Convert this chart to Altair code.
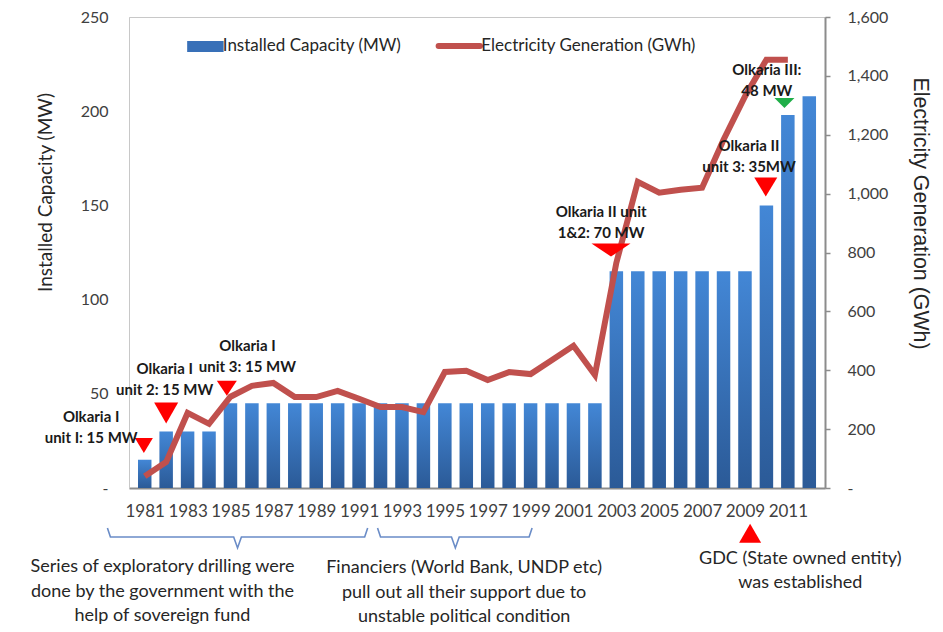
import altair as alt
import pandas as pd

# ---------------- data ----------------
years = [1981, 1982, 1983, 1984, 1985, 1986, 1987, 1988, 1989, 1990,
         1991, 1992, 1993, 1994, 1995, 1996, 1997, 1998, 1999, 2000,
         2001, 2002, 2003, 2004, 2005, 2006, 2007, 2008, 2009, 2010,
         2011, 2012]
capacity_mw = [15, 30, 30, 30, 45, 45, 45, 45, 45, 45,
               45, 45, 45, 45, 45, 45, 45, 45, 45, 45,
               45, 45, 115, 115, 115, 115, 115, 115, 115, 150,
               198, 208]
gen_years = [1981, 1982, 1983, 1984, 1985, 1986, 1987, 1988, 1989, 1990,
             1991, 1992, 1993, 1994, 1995, 1996, 1997, 1998, 1999, 2000,
             2001, 2002, 2003, 2004, 2005, 2006, 2007, 2008, 2009, 2010,
             2011]
generation_gwh = [40, 88, 255, 218, 310, 347, 357, 309, 309, 330,
                  303, 275, 275, 258, 394, 398, 367, 394, 387, 435,
                  483, 384, 765, 1040, 1003, 1013, 1020, 1183, 1330, 1455,
                  1455]
tick_years = [1981, 1983, 1985, 1987, 1989, 1991, 1993, 1995, 1997, 1999,
              2001, 2003, 2005, 2007, 2009, 2011]
mw_ticks = [0, 50, 100, 150, 200, 250]
gwh_ticks = [0, 200, 400, 600, 800, 1000, 1200, 1400, 1600]

# annotation labels (x in years, y in MW)
note_x = [1978.5, 1981.93, 1985.79, 2002.29, 2009.19, 2010.02]
note_y = [41.5, 66.9, 79.2, 150.3, 185.3, 225.6]
note_text = ["Olkaria I\nunit I: 15 MW", "Olkaria I\nunit 2: 15 MW",
             "Olkaria I\nunit 3: 15 MW", "Olkaria II unit\n1&2: 70 MW",
             "Olkaria II\nunit 3: 35MW", "Olkaria III:\n48 MW"]

# triangle markers
tri_x = [1980.96, 1982.0, 1984.83, 2002.75, 2009.97, 2010.84, 2009.24]
tri_y = [22.5, 39.8, 53.0, 126.3, 159.8, 204.4, -24.0]
tri_w = [18, 24, 20, 39, 23, 20, 22]
tri_h = [15, 21, 15, 13, 19, 10, 19]
tri_color = ["#ff0000", "#ff0000", "#ff0000", "#ff0000", "#ff0000", "#1fae48", "#ff0000"]
tri_up = [False, False, False, False, False, False, True]

# bottom notes
foot_x = [1981.83, 1995.9, 2011.58]
foot_y = [-37.2, -37.7, -32.9]
foot_text = ["Series of exploratory drilling were\ndone by the government with the\nhelp of sovereign fund",
             "Financiers (World Bank, UNDP etc)\npull out all their support due to\nunstable political condition",
             "GDC (State owned entity)\nwas established"]

# braces
brace_id = [1, 1, 1, 1, 1, 1, 1, 2, 2, 2, 2, 2, 2, 2]
brace_order = [0, 1, 2, 3, 4, 5, 6, 0, 1, 2, 3, 4, 5, 6]
brace_x = [1979.26, 1979.4, 1985.15, 1985.33, 1985.51, 1991.26, 1991.40,
           1991.86, 1992.0, 1995.31, 1995.49, 1995.67, 1998.93, 1999.07]
brace_y = [-21.2, -26.0, -26.0, -31.8, -26.0, -26.0, -21.2,
           -21.2, -26.0, -26.0, -31.8, -26.0, -26.0, -21.2]

# legend
leg_box_x = [1982.98]
leg_box_x2 = [1984.68]
leg_box_y = [231.4]
leg_box_y2 = [237.3]
leg_line_x = [1994.71]
leg_line_x2 = [1996.64]
leg_y = [234.6]
leg_text_x = [1984.64, 1996.70]
leg_text = ["Installed Capacity (MW)", "Electricity Generation (GWh)"]

FONT = "Lato"
RED = "#c0504d"

X = alt.Scale(domain=[1980.5, 2012.5], nice=False, zero=False)
Y_MW = alt.Scale(domain=[0, 250], nice=False)
Y_GWH = alt.Scale(domain=[0, 1600], nice=False)

bar_grad = alt.Gradient(
    gradient="linear",
    stops=[alt.GradientStop(color="#4387d6", offset=0),
           alt.GradientStop(color="#2b5a97", offset=1)],
    x1=0, x2=0, y1=0, y2=1,
)

df_cap = pd.DataFrame({"year": years, "mw": capacity_mw})
df_gen = pd.DataFrame({"year": gen_years, "gwh": generation_gwh})

bars = alt.Chart(df_cap).mark_bar(size=13.5, color=bar_grad).encode(
    x=alt.X("year:Q", scale=X, title=None,
            axis=alt.Axis(values=tick_years, format="d", ticks=False, grid=False,
                          labelPadding=15, labelFontSize=17, labelColor="#404040",
                          labelFont=FONT, domainColor="#8c8c8c", domainWidth=2,
                          labelOverlap=False, labelFlush=False)),
    y=alt.Y("mw:Q", scale=Y_MW,
            axis=alt.Axis(values=mw_ticks, title="Installed Capacity (MW)",
                          labelExpr="datum.value == 0 ? '-' : datum.label",
                          ticks=False, grid=False, domainColor="#c8c8c8", domainWidth=1,
                          labelPadding=21, labelFontSize=16, labelColor="#404040",
                          labelFont=FONT, titleFont=FONT, titleFontSize=19,
                          titleFontWeight="normal", titleColor="#262626",
                          titleAngle=-90, titleX=-78, titleY=175,
                          titleBaseline="alphabetic", titleAlign="center",
                          labelFlush=False)),
)

line = alt.Chart(df_gen).mark_line(color=RED, strokeWidth=6).encode(
    x=alt.X("year:Q", scale=X, title=None),
    y=alt.Y("gwh:Q", scale=Y_GWH,
            axis=alt.Axis(orient="right", values=gwh_ticks, format=",d",
                          labelExpr="datum.value == 0 ? '-' : datum.label",
                          title="Electricity Generation (GWh)",
                          ticks=True, tickSize=5, tickColor="#8c8c8c", tickWidth=1.5,
                          grid=False, domainColor="#8c8c8c", domainWidth=2,
                          labelPadding=17, labelFontSize=16, labelColor="#404040",
                          labelFont=FONT, titleFont="Liberation Sans", titleFontSize=21.4,
                          titleFontWeight="normal", titleColor="#262626",
                          titleAngle=90, titleX=88, titleY=196,
                          titleBaseline="alphabetic", titleAlign="center",
                          labelFlush=False)),
)


def tri_path(w, h, up):
    if w >= h:
        a, b = 1.0, h / w
    else:
        a, b = w / h, 1.0
    s = 1 if not up else -1
    return f"M{-a},{-b * s}L{a},{-b * s}L0,{b * s}Z", max(w, h) ** 2


tri_layers = []
for i in range(len(tri_x)):
    path, size = tri_path(tri_w[i], tri_h[i], tri_up[i])
    d = pd.DataFrame({"x": [tri_x[i]], "y": [tri_y[i]]})
    tri_layers.append(
        alt.Chart(d).mark_point(shape=path, size=size, filled=True, opacity=1,
                                color=tri_color[i], strokeWidth=0).encode(
            x=alt.X("x:Q", scale=X, title=None),
            y=alt.Y("y:Q", scale=Y_MW, axis=None),
        )
    )

notes = alt.Chart(pd.DataFrame({"x": note_x, "y": note_y, "t": note_text})).mark_text(
    align="center", baseline="top", lineBreak="\n", font=FONT, fontWeight="bold",
    fontSize=15, lineHeight=21, color="#1a1a1a",
).encode(x=alt.X("x:Q", scale=X, title=None), y=alt.Y("y:Q", scale=Y_MW, axis=None), text="t:N")

foot = alt.Chart(pd.DataFrame({"x": foot_x, "y": foot_y, "t": foot_text})).mark_text(
    align="center", baseline="top", lineBreak="\n", font=FONT, fontSize=18,
    lineHeight=24.5, color="#262626",
).encode(x=alt.X("x:Q", scale=X, title=None), y=alt.Y("y:Q", scale=Y_MW, axis=None), text="t:N")

braces = alt.Chart(pd.DataFrame({"x": brace_x, "y": brace_y, "id": brace_id,
                                 "o": brace_order})).mark_line(
    color="#6a8cc7", strokeWidth=1.6,
).encode(x=alt.X("x:Q", scale=X, title=None), y=alt.Y("y:Q", scale=Y_MW, axis=None),
         detail="id:N", order="o:Q")

leg_box = alt.Chart(pd.DataFrame({"x": leg_box_x, "x2": leg_box_x2, "y": leg_box_y,
                                  "y2": leg_box_y2})).mark_rect(color="#3870b8").encode(
    x=alt.X("x:Q", scale=X, title=None), x2="x2:Q",
    y=alt.Y("y:Q", scale=Y_MW, axis=None), y2="y2:Q")

leg_line = alt.Chart(pd.DataFrame({"x": leg_line_x, "x2": leg_line_x2, "y": leg_y})).mark_rule(
    color=RED, strokeWidth=6, strokeCap="round").encode(
    x=alt.X("x:Q", scale=X, title=None), x2="x2:Q",
    y=alt.Y("y:Q", scale=Y_MW, axis=None))

leg_text_df = pd.DataFrame({"x": leg_text_x, "y": [leg_y[0]] * len(leg_text_x), "t": leg_text})
leg_txt = alt.Chart(leg_text_df).mark_text(
    align="left", baseline="middle", font=FONT, fontSize=17, color="#262626").encode(
    x=alt.X("x:Q", scale=X, title=None), y=alt.Y("y:Q", scale=Y_MW, axis=None), text="t:N")

annotations = alt.layer(braces, leg_box, leg_line, leg_txt, *tri_layers, notes, foot)

chart = alt.layer(bars, line, annotations).resolve_scale(y="independent").properties(
    width=696, height=471,
    autosize=alt.AutoSizeParams(type="none"),
    padding={"left": 121, "top": 9, "right": 110, "bottom": 143},
    background="white",
).configure_view(stroke="#c8c8c8", strokeWidth=1)

chart.save("out.html", embed_options={"renderer": "svg", "actions": False})
